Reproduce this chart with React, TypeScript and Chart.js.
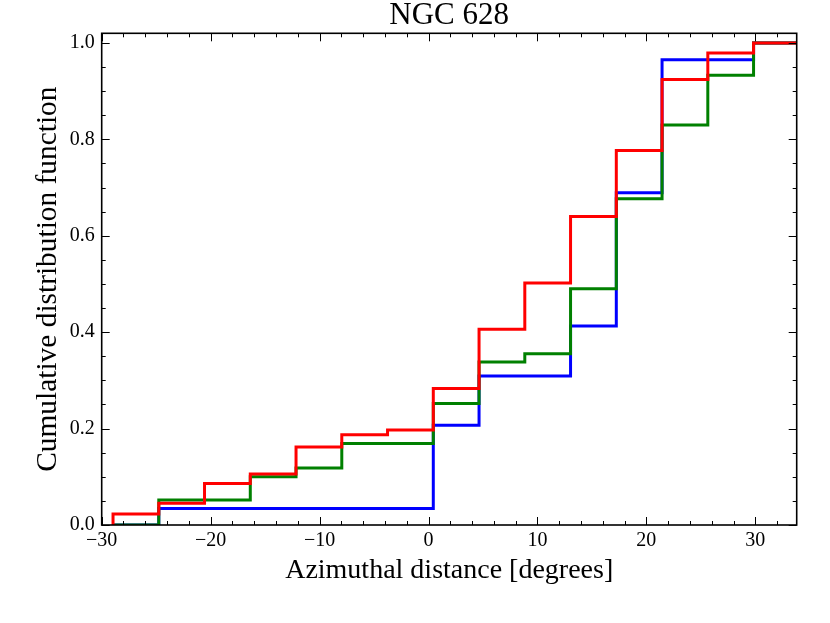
import React, { useEffect, useRef } from 'react';
import { Chart, registerables } from 'chart.js';

Chart.register(...registerables);

// Bin edges of the cumulative step histograms (degrees)
const binEdges = [-28.96, -24.76, -20.56, -16.36, -12.16, -7.96, -3.76, 0.44, 4.64, 8.84, 13.04, 17.24, 21.44, 25.64, 29.84, 34.04];

// Cumulative distribution values at the start of each bin
const blueCdf = [0, 0.034, 0.034, 0.034, 0.034, 0.034, 0.034, 0.207, 0.309, 0.309, 0.413, 0.689, 0.965, 0.965, 1.0];
const greenCdf = [0, 0.052, 0.052, 0.1, 0.118, 0.169, 0.169, 0.252, 0.338, 0.355, 0.49, 0.677, 0.83, 0.933, 1.0];
const redCdf = [0.023, 0.045, 0.086, 0.106, 0.162, 0.187, 0.197, 0.283, 0.406, 0.502, 0.64, 0.777, 0.924, 0.979, 1.0];

const xTicks = [-30, -20, -10, 0, 10, 20, 30];
const yTicks = [0, 0.2, 0.4, 0.6, 0.8, 1.0];
const xMinorStep = 2;
const yMinorStep = 0.05;

const SERIF = '"Liberation Serif", "DejaVu Serif", serif';

function stepPoints(values: number[]) {
  const pts: { x: number; y: number }[] = [{ x: binEdges[0], y: 0 }];
  values.forEach((v, i) => pts.push({ x: binEdges[i], y: v }));
  pts.push({ x: binEdges[values.length], y: values[values.length - 1] });
  return pts;
}

const frameTicksPlugin = {
  id: 'frameTicks',
  afterDraw(chart: any) {
    const { ctx, chartArea } = chart;
    const { left, right, top, bottom } = chartArea;
    const xs = chart.scales.x;
    const ys = chart.scales.y;
    ctx.save();
    ctx.strokeStyle = '#000';
    ctx.lineWidth = 1;
    const majorLen = 8;
    const minorLen = 4;
    // x ticks (bottom & top, inward)
    const xmin = xs.min, xmax = xs.max;
    const startX = Math.ceil(xmin / xMinorStep) * xMinorStep;
    for (let v = startX; v <= xmax + 1e-9; v += xMinorStep) {
      const isMajor = xTicks.some((t) => Math.abs(t - v) < 1e-6);
      const len = isMajor ? majorLen : minorLen;
      const px = Math.round(xs.getPixelForValue(v)) + 0.5;
      ctx.beginPath();
      ctx.moveTo(px, bottom);
      ctx.lineTo(px, bottom - len);
      ctx.moveTo(px, top);
      ctx.lineTo(px, top + len);
      ctx.stroke();
    }
    // y ticks (left & right, inward)
    const ymin = ys.min, ymax = ys.max;
    const n = Math.floor((ymax - ymin) / yMinorStep + 1e-6);
    for (let i = 0; i <= n; i++) {
      const v = ymin + i * yMinorStep;
      const isMajor = yTicks.some((t) => Math.abs(t - v) < 1e-6);
      const len = isMajor ? majorLen : minorLen;
      const py = Math.round(ys.getPixelForValue(v)) + 0.5;
      ctx.beginPath();
      ctx.moveTo(left, py);
      ctx.lineTo(left + len, py);
      ctx.moveTo(right, py);
      ctx.lineTo(right - len, py);
      ctx.stroke();
    }
    ctx.lineWidth = 1.6;
    ctx.strokeRect(left, top, right - left, bottom - top);
    ctx.restore();
  },
};

export default function App() {
  const ref = useRef<HTMLCanvasElement>(null);
  useEffect(() => {
    document.body.style.margin = '0';
    const fmtX = (v: any) => {
      const n = Number(v);
      return n < 0 ? '\u2212' + Math.abs(n) : String(n);
    };
    const chart = new Chart(ref.current as HTMLCanvasElement, {
      type: 'line',
      data: {
        datasets: [
          { data: stepPoints(blueCdf), borderColor: '#0000ff', borderWidth: 3, stepped: 'before', pointRadius: 0, fill: false, order: 3 },
          { data: stepPoints(greenCdf), borderColor: '#008000', borderWidth: 3, stepped: 'before', pointRadius: 0, fill: false, order: 2 },
          { data: stepPoints(redCdf), borderColor: '#ff0000', borderWidth: 3, stepped: 'before', pointRadius: 0, fill: false, order: 1 },
        ] as any,
      },
      options: {
        animation: false,
        responsive: true,
        maintainAspectRatio: false,
        events: [],
        layout: { padding: { left: 0, right: 33.3, top: 0, bottom: 0 } },
        plugins: {
          legend: { display: false },
          tooltip: { enabled: false },
          title: {
            display: true,
            text: 'NGC 628',
            color: '#000',
            fullSize: false,
            font: { family: SERIF, size: 31, weight: 'normal', lineHeight: 1 },
            padding: { top: 0, bottom: 2.3 },
          } as any,
        },
        scales: {
          x: {
            type: 'linear',
            min: -30,
            max: 33.8,
            grid: { display: false, drawTicks: false },
            border: { display: false },
            afterBuildTicks: (s: any) => {
              s.ticks = xTicks.map((v) => ({ value: v }));
            },
            afterFit: (s: any) => {
              s.height = 98;
            },
            ticks: {
              autoSkip: false,
              maxRotation: 0,
              padding: 4,
              color: '#000',
              font: { family: SERIF, size: 20 },
              callback: fmtX,
            },
            title: {
              display: true,
              text: 'Azimuthal distance [degrees]',
              color: '#000',
              font: { family: SERIF, size: 28 },
              padding: { top: 0, bottom: 35.7 },
            },
          },
          y: {
            type: 'linear',
            min: 0,
            max: 1.02,
            grid: { display: false, drawTicks: false },
            border: { display: false },
            afterBuildTicks: (s: any) => {
              s.ticks = yTicks.map((v) => ({ value: v }));
            },
            afterFit: (s: any) => {
              s.width = 101.7;
            },
            ticks: {
              autoSkip: false,
              padding: 7,
              color: '#000',
              font: { family: SERIF, size: 20 },
              callback: (v: any) => Number(v).toFixed(1),
            },
            title: {
              display: true,
              text: 'Cumulative distribution function',
              color: '#000',
              font: { family: SERIF, size: 29.4 },
              padding: { top: 30.4, bottom: 0 },
            },
          },
        },
      },
      plugins: [frameTicksPlugin],
    });
    return () => chart.destroy();
  }, []);
  return (
    <div style={{ width: 830, height: 623, position: 'relative' }}>
      <canvas ref={ref} />
    </div>
  );
}
